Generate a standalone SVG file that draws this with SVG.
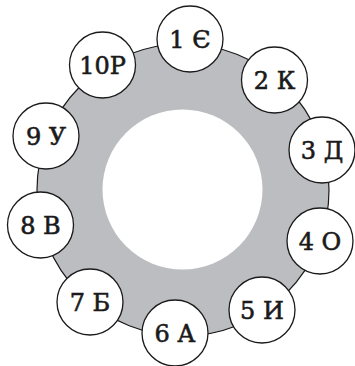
<svg xmlns="http://www.w3.org/2000/svg" width="355" height="366" viewBox="0 0 355 366">
<style>
.n circle{fill:#fff;stroke:#1a1a1a;stroke-width:1.3}
.n text{font-family:"DejaVu Serif",serif;font-size:24px;fill:#1a1a1a;stroke:#1a1a1a;stroke-width:0.6;text-anchor:middle}
</style>
<rect width="355" height="366" fill="#fff"/>
<g id="ring">
<circle cx="183" cy="190" r="146" fill="#bcbdc0" stroke="#1a1a1a" stroke-width="1.2"/>
<circle cx="182.5" cy="189.5" r="80" fill="#fff"/>
</g>
<g id="connectors"></g>
<g id="n1" class="n"><circle cx="190" cy="39" r="33"/><text x="190" y="48">1 Є</text></g>
<g id="n2" class="n"><circle cx="274.5" cy="80" r="33"/><text x="274.5" y="89">2 К</text></g>
<g id="n3" class="n"><circle cx="322" cy="150" r="33"/><text x="322" y="159">3 Д</text></g>
<g id="n4" class="n"><circle cx="320" cy="241" r="33"/><text x="320" y="250">4 О</text></g>
<g id="n5" class="n"><circle cx="262" cy="310" r="33"/><text x="262" y="319">5 И</text></g>
<g id="n6" class="n"><circle cx="175" cy="333" r="33"/><text x="175" y="342">6 А</text></g>
<g id="n7" class="n"><circle cx="90" cy="302" r="33"/><text x="90" y="311">7 Б</text></g>
<g id="n8" class="n"><circle cx="40.5" cy="225" r="33"/><text x="40.5" y="234">8 В</text></g>
<g id="n9" class="n"><circle cx="46" cy="136" r="33"/><text x="46" y="145">9 У</text></g>
<g id="n10" class="n"><circle cx="102.5" cy="65" r="33"/><text x="102.5" y="74">10Р</text></g>
</svg>
